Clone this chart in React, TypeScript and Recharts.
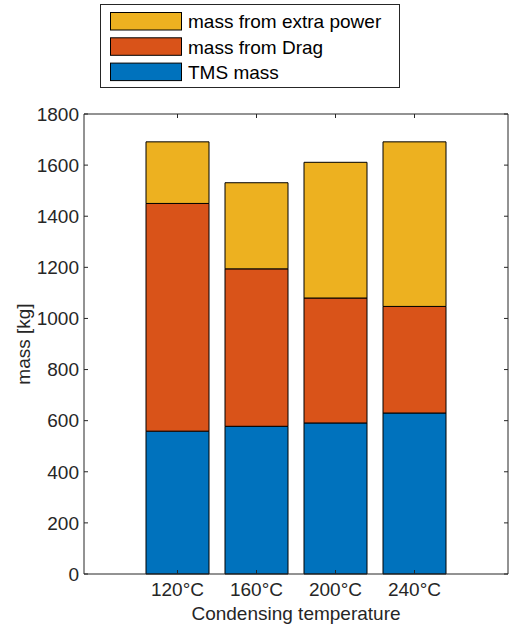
import { BarChart, Bar, XAxis, YAxis, ReferenceLine } from "recharts";

const CATEGORIES = ["120°C", "160°C", "200°C", "240°C"];
const TMS_MASS = [559, 578, 591, 630];
const DRAG_MASS = [891, 616, 489, 417];
const EXTRA_POWER_MASS = [241, 337, 531, 644];
const Y_TICKS = [0, 200, 400, 600, 800, 1000, 1200, 1400, 1600, 1800];

const SERIES = [
  { key: "extra", name: "mass from extra power", color: "#EDB120" },
  { key: "drag", name: "mass from Drag", color: "#D95319" },
  { key: "tms", name: "TMS mass", color: "#0072BD" },
];

const W = 509;
const H = 628;
const PLOT_LEFT = 84;
const PLOT_RIGHT = 508;
const PLOT_TOP = 114;
const PLOT_BOTTOM = 574;
const TICK_LEN = 4;
const FONT = "'Liberation Sans', Arial, Helvetica, sans-serif";
const INK = "#262626";

const data = CATEGORIES.map((name, i) => ({
  name,
  tms: TMS_MASS[i],
  drag: DRAG_MASS[i],
  extra: EXTRA_POWER_MASS[i],
}));

// y tick: label on the left plus inward tick marks on both sides of the box
function YTick(props: any) {
  const { x, y, payload } = props;
  return (
    <g>
      <line x1={PLOT_LEFT} x2={PLOT_LEFT + TICK_LEN} y1={y} y2={y} stroke={INK} />
      <line x1={PLOT_RIGHT - TICK_LEN} x2={PLOT_RIGHT} y1={y} y2={y} stroke={INK} />
      <text x={x} y={y} dy="0.355em" textAnchor="end" fontSize={19} fill={INK} fontFamily={FONT}>
        {payload.value}
      </text>
    </g>
  );
}

function XTick(props: any) {
  const { x, y, payload } = props;
  return (
    <g>
      <line x1={x} x2={x} y1={PLOT_BOTTOM} y2={PLOT_BOTTOM - TICK_LEN} stroke={INK} />
      <line x1={x} x2={x} y1={PLOT_TOP} y2={PLOT_TOP + TICK_LEN} stroke={INK} />
      <text x={x} y={y} dy="0.71em" textAnchor="middle" fontSize={19} fill={INK} fontFamily={FONT}>
        {payload.value}
      </text>
    </g>
  );
}

function Legend() {
  return (
    <svg width={302} height={86} style={{ position: "absolute", left: 99, top: 3 }}>
      <rect x={1.5} y={1.5} width={299} height={83} fill="#fff" stroke={INK} strokeWidth={1} />
      {SERIES.map((s, i) => (
        <g key={s.key}>
          <rect x={11.5} y={9.5 + i * 25.3} width={71} height={17.5} fill={s.color} stroke="#000" strokeWidth={1} />
          <text x={89} y={18.5 + i * 25.3} dy="0.355em" fontSize={19} fill="#000" fontFamily={FONT}>
            {s.name}
          </text>
        </g>
      ))}
    </svg>
  );
}

export default function App() {
  return (
    <div style={{ position: "absolute", left: 0, top: 0, width: W, height: H, background: "#fff" }}>
      <BarChart width={W} height={H} data={data} margin={{ top: PLOT_TOP, right: 0, bottom: 0, left: 0 }}>
        <Bar dataKey="tms" stackId="a" fill="#0072BD" stroke="#000" strokeWidth={1} barSize={63} isAnimationActive={false} />
        <Bar dataKey="drag" stackId="a" fill="#D95319" stroke="#000" strokeWidth={1} barSize={63} isAnimationActive={false} />
        <Bar dataKey="extra" stackId="a" fill="#EDB120" stroke="#000" strokeWidth={1} barSize={63} isAnimationActive={false} />
        <ReferenceLine y={1800} stroke={INK} strokeWidth={1} />
        <XAxis
          dataKey="name"
          height={H - PLOT_BOTTOM}
          padding={{ left: 54, right: 54 }}
          tickLine={false}
          tickSize={0}
          tickMargin={9}
          axisLine={{ stroke: INK }}
          tick={<XTick />}
          interval={0}
          label={{
            content: (p: any) => (
              <text
                x={p.viewBox.x + p.viewBox.width / 2}
                y={613}
                dy="0.355em"
                textAnchor="middle"
                fontSize={19}
                fill={INK}
                fontFamily={FONT}
              >
                Condensing temperature
              </text>
            ),
          }}
        />
        <YAxis
          width={PLOT_LEFT}
          domain={[0, 1800]}
          ticks={Y_TICKS}
          interval={0}
          tickLine={false}
          tickSize={0}
          tickMargin={5}
          axisLine={{ stroke: INK }}
          tick={<YTick />}
          label={{
            content: (p: any) => {
              const cy = p.viewBox.y + p.viewBox.height / 2;
              return (
                <text
                  x={23}
                  y={cy}
                  transform={`rotate(-90 23 ${cy})`}
                  dy="0.355em"
                  textAnchor="middle"
                  fontSize={19}
                  fill={INK}
                  fontFamily={FONT}
                >
                  mass [kg]
                </text>
              );
            },
          }}
        />
        <YAxis
          yAxisId="right"
          orientation="right"
          width={W - PLOT_RIGHT}
          domain={[0, 1800]}
          tick={false}
          tickLine={false}
          axisLine={{ stroke: INK }}
        />
      </BarChart>
      <Legend />
    </div>
  );
}
